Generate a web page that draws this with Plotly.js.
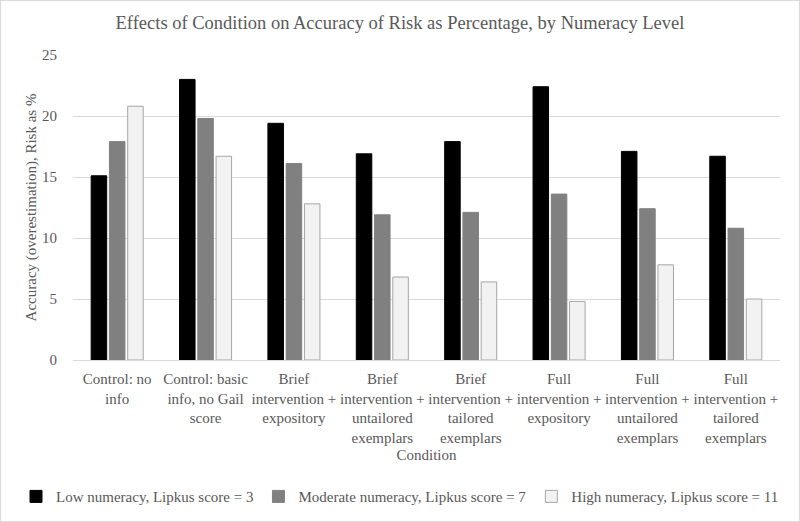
<!DOCTYPE html>
<html><head><meta charset="utf-8">
<script src="https://cdn.plot.ly/plotly-3.0.1.min.js"></script>
<style>html,body{margin:0;padding:0;background:#fff;}#chart{width:798px;height:520px;border:1px solid #d9d9d9;}</style>
</head><body><div id="chart"></div>
<script>
const categories = [
  "Control: no<br>info",
  "Control: basic<br>info, no Gail<br>score",
  "Brief<br>intervention +<br>expository",
  "Brief<br>intervention +<br>untailored<br>exemplars",
  "Brief<br>intervention +<br>tailored<br>exemplars",
  "Full<br>intervention +<br>expository",
  "Full<br>intervention +<br>untailored<br>exemplars",
  "Full<br>intervention +<br>tailored<br>exemplars"
];
const seriesNames = ["Low numeracy, Lipkus score = 3", "Moderate numeracy, Lipkus score = 7", "High numeracy, Lipkus score = 11"];
const lowNumeracy = [15.1, 23.0, 19.4, 16.9, 17.9, 22.4, 17.1, 16.7];
const moderateNumeracy = [17.9, 19.8, 16.1, 11.9, 12.1, 13.6, 12.4, 10.8];
const highNumeracy = [20.8, 16.7, 12.8, 6.8, 6.4, 4.8, 7.8, 5.0];
const yTicks = [0, 5, 10, 15, 20, 25];

const fills = ["#000000", "#808080", "#f2f2f2"];
const lines = ["#000000", "#808080", "#a6a6a6"];
const vals = [lowNumeracy, moderateNumeracy, highNumeracy];
const traces = vals.map((v, i) => ({
  type: "bar", x: categories, y: v, name: seriesNames[i],
  marker: {color: fills[i], line: {color: lines[i], width: 1}},
  hoverinfo: "y"
}));
const W = 798, H = 520;
const fam = "'Liberation Serif', 'Times New Roman', serif";
const font = {family: fam, color: "#595959", size: 15};
Plotly.newPlot("chart", traces, {
  width: W, height: H,
  margin: {l: 0, r: 0, t: 54, b: 161, autoexpand: false},
  paper_bgcolor: "#fff", plot_bgcolor: "#fff",
  font: font,
  title: {text: "Effects of Condition on Accuracy of Risk as Percentage, by Numeracy Level", font: {family: fam, size: 18.5, color: "#595959"}, x: 0.5, xanchor: "center", y: 0.958, yanchor: "middle"},
  barmode: "group", bargap: 0.38, bargroupgap: 0.15,
  xaxis: {type: "category", domain: [72 / W, 1 - 19 / W], showgrid: false, showline: true, linecolor: "#d9d9d9", ticks: "", tickangle: 0, tickfont: font,
          ticklabelstandoff: 5,
          title: {text: "Condition", font: font, standoff: 4}, automargin: false},
  yaxis: {range: [0, 25], tickvals: yTicks, showgrid: true, gridcolor: "#d9d9d9", zeroline: false, showline: false, ticks: "", tickfont: font,
          ticklabelstandoff: 15,
          title: {text: "Accuracy (overestimation), Risk as %", font: font, standoff: 1}, automargin: false},
  legend: {orientation: "h", x: 0.5, xanchor: "center", y: -0.448, yanchor: "middle", font: {family: fam, color: "#595959", size: 15}, itemwidth: 30, tracegroupgap: 0},
  showlegend: true
}, {displayModeBar: false, staticPlot: true});
</script></body></html>
